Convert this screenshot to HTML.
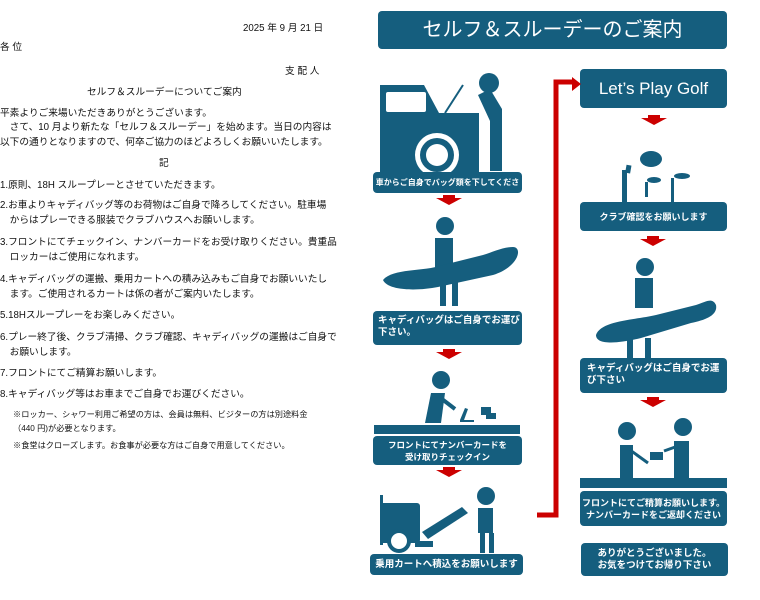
<!DOCTYPE html>
<html><head><meta charset="utf-8"><style>
body{margin:0;width:760px;height:600px;background:#fff;position:relative;overflow:hidden;font-family:"Liberation Sans","Noto Sans CJK JP",sans-serif;color:#111}
.t{position:absolute;font-size:9.7px;white-space:nowrap;line-height:14px}
.n{position:absolute;font-size:8.2px;white-space:nowrap;line-height:13px}
.b{position:absolute;background:#155e7e;color:#fff;border-radius:4px;font-weight:bold;font-size:9.5px;line-height:12px;box-sizing:border-box;white-space:nowrap}
.c{display:flex;align-items:center;justify-content:center;text-align:center}
svg{position:absolute;left:0;top:0}
</style></head><body>
<div class="t" style="left:243px;top:22px">2025 年 9 月 21 日</div>
<div class="t" style="left:0;top:41px">各 位</div>
<div class="t" style="left:285px;top:65px">支 配 人</div>
<div class="t" style="left:87px;top:86px">セルフ＆スルーデーについてご案内</div>
<div class="t" style="left:0;top:107px">平素よりご来場いただきありがとうございます。</div>
<div class="t" style="left:0;top:121px">　さて、10 月より新たな「セルフ＆スルーデー」を始めます。当日の内容は</div>
<div class="t" style="left:0;top:136px">以下の通りとなりますので、何卒ご協力のほどよろしくお願いいたします。</div>
<div class="t" style="left:159px;top:157px">記</div>
<div class="t" style="left:0;top:179px">1.原則、18H スループレーとさせていただきます。</div>
<div class="t" style="left:0;top:199px">2.お車よりキャディバッグ等のお荷物はご自身で降ろしてください。駐車場</div>
<div class="t" style="left:0;top:214px">　からはプレーできる服装でクラブハウスへお願いします。</div>
<div class="t" style="left:0;top:236px">3.フロントにてチェックイン、ナンバーカードをお受け取りください。貴重品</div>
<div class="t" style="left:0;top:251px">　ロッカーはご使用になれます。</div>
<div class="t" style="left:0;top:273px">4.キャディバッグの運搬、乗用カートへの積み込みもご自身でお願いいたし</div>
<div class="t" style="left:0;top:288px">　ます。ご使用されるカートは係の者がご案内いたします。</div>
<div class="t" style="left:0;top:309px">5.18Hスループレーをお楽しみください。</div>
<div class="t" style="left:0;top:331px">6.プレー終了後、クラブ清掃、クラブ確認、キャディバッグの運搬はご自身で</div>
<div class="t" style="left:0;top:346px">　お願いします。</div>
<div class="t" style="left:0;top:367px">7.フロントにてご精算お願いします。</div>
<div class="t" style="left:0;top:388px">8.キャディバッグ等はお車までご自身でお運びください。</div>
<div class="n" style="left:13px;top:408px">※ロッカー、シャワー利用ご希望の方は、会員は無料、ビジターの方は別途料金</div>
<div class="n" style="left:13px;top:422px">（440 円)が必要となります。</div>
<div class="n" style="left:13px;top:439px">※食堂はクローズします。お食事が必要な方はご自身で用意してください。</div>

<div class="b c" style="left:378px;top:11px;width:349px;height:38px;font-size:20px;font-weight:normal">セルフ＆スルーデーのご案内</div>
<div class="b c" style="left:580px;top:69px;width:147px;height:39px;font-size:17px;font-weight:normal">Let’s Play Golf</div>

<svg width="760" height="600" fill="#155e7e">
<path d="M537 515H556V82H574" fill="none" stroke="#c00" stroke-width="5"/>
<polygon points="572,77 581,84 572,91" fill="#c00"/>
<g fill="#c00">
<polygon points="436,198 462,198 449,205"/><rect x="443" y="195" width="12" height="4"/>
<polygon points="436,352 462,352 449,359"/><rect x="443" y="349" width="12" height="4"/>
<polygon points="436,470 462,470 449,477"/><rect x="443" y="467" width="12" height="4"/>
<polygon points="641,118 667,118 654,125"/><rect x="648" y="115" width="12" height="4"/>
<polygon points="640,239 666,239 653,246"/><rect x="647" y="236" width="12" height="4"/>
<polygon points="640,400 666,400 653,407"/><rect x="647" y="397" width="12" height="4"/>
</g>
<path d="M380 85h44l15 28h40v60h-99z"/>
<rect x="386" y="92" width="40" height="20" rx="2" fill="#fff"/>
<circle cx="437" cy="155" r="22" fill="#fff"/><circle cx="437" cy="155" r="17"/><circle cx="437" cy="155" r="11" fill="#fff"/>
<line x1="445" y1="113" x2="463" y2="85" stroke="#155e7e" stroke-width="2"/>
<circle cx="489" cy="83" r="10"/>
<path d="M478 95l12 -6l12 20v62h-12v-50z"/>
<circle cx="445" cy="226" r="9"/>
<rect x="435" y="238" width="18" height="40"/>
<path d="M383 280c10-12 40-8 60-15l40-10c10-3 20-8 30-8 10 0 6 20-20 28l-55 12c-20 4-50 4-55-7z"/>
<rect x="440" y="280" width="6" height="26"/><rect x="452" y="280" width="6" height="26"/>
<circle cx="441" cy="380" r="9"/>
<path d="M425 423l6-30h14l-4 30z"/>
<line x1="438" y1="396" x2="455" y2="409" stroke="#155e7e" stroke-width="4"/>
<path d="M460 420l5-12 3 1-4 11z"/><rect x="460" y="420" width="14" height="2"/>
<rect x="481" y="407" width="10" height="8"/><rect x="486" y="413" width="10" height="6"/>
<rect x="374" y="425" width="146" height="9"/>
<rect x="380" y="495" width="3" height="50"/>
<rect x="380" y="503" width="40" height="40" rx="3"/>
<circle cx="399" cy="541" r="10" fill="#fff" stroke="#155e7e" stroke-width="4"/>
<path d="M422 532l40-25 6 6-40 26z"/><rect x="415" y="541" width="18" height="6"/>
<circle cx="486" cy="496" r="9"/>
<path d="M478 508h15v25h-15z"/><rect x="480" y="533" width="5" height="20"/><rect x="489" y="533" width="5" height="20"/>
<ellipse cx="651" cy="159" rx="11" ry="8"/>
<rect x="622" y="170" width="5" height="32"/>
<rect x="626" y="165" width="5" height="8" transform="rotate(10 628 168)"/>
<ellipse cx="654" cy="180" rx="7" ry="3"/><rect x="645" y="182" width="3" height="15"/>
<ellipse cx="682" cy="176" rx="8" ry="3"/><rect x="671" y="178" width="3" height="24"/>
<circle cx="645" cy="267" r="9"/>
<rect x="635" y="278" width="18" height="30"/>
<path d="M596 335c5-15 40-15 60-20l40-10c10-3 16-8 20 0 2 10-10 15-25 18l-50 15c-20 5-45 8-45-3z"/>
<rect x="627" y="338" width="6" height="20"/><rect x="645" y="338" width="6" height="20"/>
<circle cx="627" cy="431" r="9"/><circle cx="683" cy="427" r="9"/>
<path d="M620 445h13v35h-13z"/><path d="M674 441h15v39h-15z"/>
<rect x="650" y="452" width="13" height="8"/>
<line x1="630" y1="450" x2="648" y2="463" stroke="#155e7e" stroke-width="3"/>
<line x1="664" y1="451" x2="678" y2="446" stroke="#155e7e" stroke-width="3"/>
<rect x="580" y="478" width="147" height="10"/>
</svg>

<div class="b c" style="left:373px;top:172px;width:149px;height:21px;font-size:8px;overflow:hidden">車からご自身でバッグ類を下してくださ</div>
<div class="b" style="left:373px;top:311px;width:149px;height:34px;padding:4px 0 0 5px">キャディバッグはご自身でお運び<br>下さい。</div>
<div class="b c" style="left:373px;top:436px;width:149px;height:29px;font-size:8.5px">フロントにてナンバーカードを<br>受け取りチェックイン</div>
<div class="b c" style="left:370px;top:554px;width:153px;height:21px">乗用カートへ積込をお願いします</div>
<div class="b c" style="left:580px;top:202px;width:147px;height:29px;font-size:9px">クラブ確認をお願いします</div>
<div class="b" style="left:580px;top:358px;width:147px;height:35px;padding:5px 0 0 7px">キャディバッグはご自身でお運<br>び下さい</div>
<div class="b c" style="left:580px;top:491px;width:147px;height:35px;font-size:9px">フロントにてご精算お願いします。<br>ナンバーカードをご返却ください</div>
<div class="b c" style="left:581px;top:543px;width:147px;height:33px">ありがとうございました。<br>お気をつけてお帰り下さい</div>
</body></html>
